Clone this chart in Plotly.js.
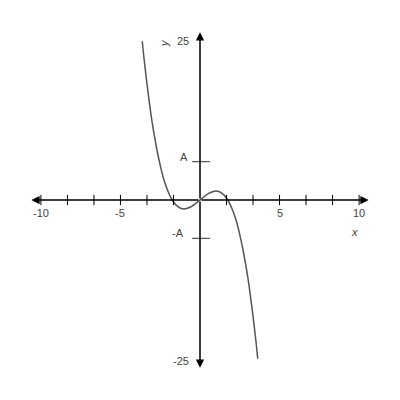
<!DOCTYPE html>
<html>
<head>
<meta charset="utf-8">
<script src="https://cdn.plot.ly/plotly-3.0.1.min.js"></script>
<style>html,body{margin:0;padding:0;background:#fff;}#chart{width:400px;height:400px;}</style>
</head>
<body>
<div id="chart"></div>
<script>
// Curve values
const curveX = [-3.63,-3.5,-3.25,-3,-2.75,-2.5,-2.25,-2,-1.75,-1.5,-1.25,-1,-0.75,-0.5,-0.25,0,
                0.25,0.5,0.75,1,1.25,1.5,1.75,2,2.25,2.5,2.75,3,3.25,3.5,3.63];
const curveY = [24.8,21.7,16.5,12.0,8.4,5.4,3.0,1.3,0.0,-0.8,-1.25,-1.4,-1.25,-0.95,-0.5,0,
                0.5,0.95,1.25,1.4,1.25,0.8,0.0,-1.3,-3.0,-5.4,-8.4,-12.0,-16.5,-21.7,-24.8];

// Axis ticks and labels
const xTickVals = [-10,-8.333,-6.667,-5,-3.333,-1.667,1.667,3.333,5,6.667,8.333,10];
const xLabelVals = [-10,-5,5,10];
const xLabelText = ['-10','-5','5','10'];
const yMarkVals = [6,-6];
const yMarkText = ['A','-A'];
const yEndVals = [25,-25];
const yEndText = ['25','-25'];

const font = {family:'Liberation Sans, Arial, sans-serif', size:11, color:'#444'};

const shapes = [];
xTickVals.forEach(v => shapes.push({type:'line', xref:'x', yref:'y', x0:v, x1:v, y0:-0.8, y1:0.8,
  line:{color:'#000', width:1}}));
yMarkVals.forEach(v => shapes.push({type:'line', xref:'x', yref:'y', x0:-0.5, x1:0.63, y0:v, y1:v,
  line:{color:'#555', width:1.2}}));

const annotations = [];
// axis lines with arrowheads
const arrowEnds = [[10.6,0],[-10.6,0],[0,26.2],[0,-26.2]];
arrowEnds.forEach(p => annotations.push({x:p[0], y:p[1], ax:0, ay:0, xref:'x', yref:'y', axref:'x', ayref:'y',
  text:'', showarrow:true, arrowhead:2, arrowsize:1.1, arrowwidth:1.5, arrowcolor:'#000', standoff:0}));
xLabelVals.forEach((v,i) => annotations.push({x:v, y:0, xref:'x', yref:'y', text:xLabelText[i],
  showarrow:false, yshift:-13, font:font}));
yMarkVals.forEach((v,i) => annotations.push({x:0, y:v, xref:'x', yref:'y', text:yMarkText[i],
  showarrow:false, yshift:5, xshift:(i===0?-16:-22), font:font}));
yEndVals.forEach((v,i) => annotations.push({x:0, y:v, xref:'x', yref:'y', text:yEndText[i],
  showarrow:false, xshift:(i===0?-17:-19), yshift:-1, font:font}));
annotations.push({x:0, y:25, xref:'x', yref:'y', text:'<i>y</i>', textangle:-90, showarrow:false,
  xshift:-36, yshift:-3, font:font});
annotations.push({x:10, y:0, xref:'x', yref:'y', text:'<i>x</i>', showarrow:false,
  xshift:-5, yshift:-32, font:font});

const trace = {x:curveX, y:curveY, type:'scatter', mode:'lines',
  line:{color:'#555', width:1.5, shape:'spline'}, hoverinfo:'skip'};

const axisCommon = {showgrid:false, zeroline:false, showticklabels:false, ticks:'', showline:false, fixedrange:true};

Plotly.newPlot('chart', [trace], {
  width:400, height:400,
  margin:{l:25, r:25, t:24, b:24},
  paper_bgcolor:'#fff', plot_bgcolor:'#fff',
  showlegend:false,
  xaxis:Object.assign({range:[-11,11]}, axisCommon),
  yaxis:Object.assign({range:[-27.5,27.5]}, axisCommon),
  shapes:shapes, annotations:annotations
}, {displayModeBar:false, staticPlot:true});
</script>
</body>
</html>
